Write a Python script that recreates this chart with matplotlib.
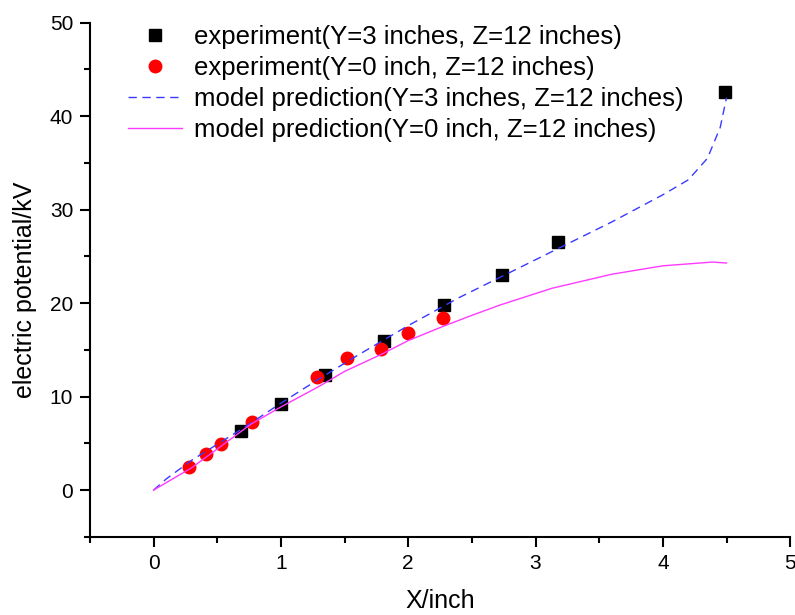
import matplotlib.pyplot as plt
from matplotlib.ticker import MultipleLocator

plt.rcParams['font.family'] = ['Liberation Sans', 'DejaVu Sans']

# 実験データ (Y=3 inches)
exp3_x = [0.69, 1.0, 1.35, 1.81, 2.28, 2.74, 3.18, 4.49]
exp3_y = [6.3, 9.2, 12.3, 16.0, 19.8, 23.0, 26.5, 42.6]

# 実験データ (Y=0 inch)
exp0_x = [0.28, 0.41, 0.53, 0.77, 1.28, 1.52, 1.79, 2.0, 2.27]
exp0_y = [2.5, 3.9, 4.9, 7.3, 12.1, 14.1, 15.1, 16.8, 18.4]

# モデル予測 (Y=3 inches)
model3_x = [0, 0.1, 0.3, 0.5, 0.7, 1.0, 1.3, 1.6, 2.0, 2.4, 2.8, 3.2, 3.6, 4.0, 4.2, 4.35, 4.45, 4.5]
model3_y = [0, 1.2, 3.2, 4.9, 6.6, 9.3, 11.9, 14.4, 17.6, 20.6, 23.3, 26.0, 28.7, 31.6, 33.2, 35.5, 38.8, 42.0]

# モデル予測 (Y=0 inch)
model0_x = [0, 0.3, 0.77, 1.0, 1.3, 1.5, 1.8, 2.0, 2.27, 2.5, 2.72, 3.13, 3.6, 4.0, 4.39, 4.5]
model0_y = [0, 2.4, 7.1, 8.9, 11.1, 12.7, 14.6, 16.0, 17.5, 18.7, 19.8, 21.6, 23.1, 24.0, 24.4, 24.3]

fig = plt.figure(figsize=(7.95, 6.15), dpi=100)
ax = fig.add_axes([0.113, 0.127, 0.881, 0.836])

ax.plot(exp3_x, exp3_y, 's', color='black', markersize=8, label='experiment(Y=3 inches, Z=12 inches)')
ax.plot(exp0_x, exp0_y, 'o', color='red', markersize=9, label='experiment(Y=0 inch, Z=12 inches)')
ax.plot(model3_x, model3_y, '--', color='#3a3aff', linewidth=1, dashes=(6, 4),
        label='model prediction(Y=3 inches, Z=12 inches)')
ax.plot(model0_x, model0_y, '-', color='#ff3aff', linewidth=1,
        label='model prediction(Y=0 inch, Z=12 inches)')

ax.set_xlim(-0.5, 5)
ax.set_ylim(-5, 50)
ax.xaxis.set_major_locator(MultipleLocator(1))
ax.xaxis.set_minor_locator(MultipleLocator(0.5))
ax.yaxis.set_major_locator(MultipleLocator(10))
ax.yaxis.set_minor_locator(MultipleLocator(5))

ax.spines['top'].set_visible(False)
ax.spines['right'].set_visible(False)
for s in ['left', 'bottom']:
    ax.spines[s].set_linewidth(1.5)
ax.tick_params(which='major', direction='out', length=7, width=1.5, labelsize=15, pad=5)
ax.tick_params(which='minor', direction='out', length=4, width=1.5)

ax.set_xlabel('X/inch', fontsize=18, labelpad=12)
ax.set_ylabel('electric potential/kV', fontsize=18, labelpad=9, y=0.48)

ax.legend(loc='upper left', bbox_to_anchor=(0.054, 0.995), frameon=False, fontsize=18.5,
          handlelength=2.1, handletextpad=0.5, labelspacing=0.27, borderaxespad=0, borderpad=0)

fig.savefig('out.png', dpi=100)
